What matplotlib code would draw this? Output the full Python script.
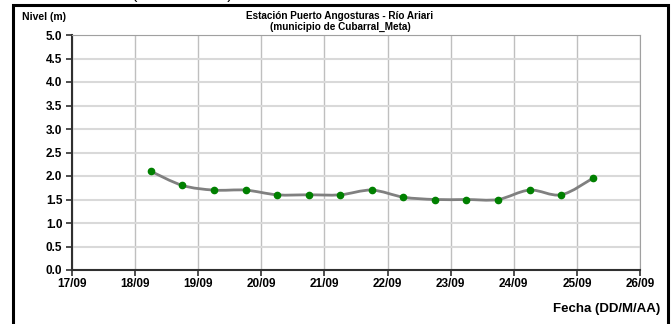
import numpy as np
import matplotlib
matplotlib.use('Agg')
import matplotlib.pyplot as plt
from matplotlib.path import Path
from matplotlib.patches import PathPatch, Rectangle

plt.rcParams['font.family'] = ['Liberation Sans', 'DejaVu Sans']
plt.rcParams['font.weight'] = 'bold'

# datos: dia (fraccion del mes de septiembre) y nivel en metros
dias = [18.25, 18.75, 19.25, 19.75, 20.25, 20.75, 21.25, 21.75,
        22.25, 22.75, 23.25, 23.75, 24.25, 24.75, 25.25]
nivel = [2.1, 1.8, 1.7, 1.7, 1.6, 1.6, 1.6, 1.7,
         1.55, 1.5, 1.5, 1.5, 1.7, 1.6, 1.95]
xticks = [17, 18, 19, 20, 21, 22, 23, 24, 25, 26]
xlabels = ['17/09', '18/09', '19/09', '20/09', '21/09',
           '22/09', '23/09', '24/09', '25/09', '26/09']
yticks = [0.0, 0.5, 1.0, 1.5, 2.0, 2.5, 3.0, 3.5, 4.0, 4.5, 5.0]


def smooth_path(x, y):
    # curva suavizada tipo Excel (bezier cubica)
    pts = np.column_stack([x, y])
    n = len(pts)
    verts = [pts[0]]
    codes = [Path.MOVETO]
    for i in range(n - 1):
        p0 = pts[max(i - 1, 0)]
        p1 = pts[i]
        p2 = pts[i + 1]
        p3 = pts[min(i + 2, n - 1)]
        c1 = p1 + (p2 - p0) / 6.0
        c2 = p2 - (p3 - p1) / 6.0
        verts += [c1, c2, p2]
        codes += [Path.CURVE4] * 3
    return Path(verts, codes)


fig = plt.figure(figsize=(6.71, 3.24), dpi=100)
ax = fig.add_axes([72 / 671, 1 - 270 / 324, 568 / 671, 235 / 324])

# marco exterior
fig.patches.append(Rectangle((13 / 671, -0.05), 655 / 671, 1.05 - 5 / 324,
                             transform=fig.transFigure, fill=False,
                             edgecolor='black', linewidth=2.2))
# texto recortado arriba (solo asoman los parentesis)
fig.text(182 / 671, 1 + 1.5 / 324, '(continuación)', ha='center',
         va='baseline', fontsize=11.5, fontweight='normal')

ax.add_patch(PathPatch(smooth_path(dias, nivel), facecolor='none',
                       edgecolor='#808080', linewidth=2, zorder=3))
ax.plot(dias, nivel, linestyle='none', marker='o', markersize=4.5,
        color='#008000', zorder=4)

ax.set_xlim(17, 26)
ax.set_ylim(0, 5)
ax.set_xticks(xticks)
ax.set_xticklabels(xlabels)
ax.set_yticks(yticks)
ax.set_yticklabels(['%.1f' % v for v in yticks])
ax.tick_params(axis='both', direction='out', length=4, width=1.2,
               labelsize=8.5, color='#303030', pad=2)
ax.tick_params(axis='y', pad=3)

ax.grid(axis='x', color='#bfbfbf', linewidth=1)
ax.grid(axis='y', color='#d9d9d9', linewidth=1.5)
ax.set_axisbelow(True)
ax.spines['left'].set_color('#303030')
ax.spines['left'].set_linewidth(1.5)
ax.spines['bottom'].set_color('#303030')
ax.spines['bottom'].set_linewidth(1.5)
ax.spines['top'].set_color('#a0a0a0')
ax.spines['right'].set_color('#a0a0a0')

fig.text(340 / 671, 1 - 16 / 324, 'Estación Puerto Angosturas - Río Ariari',
         ha='center', va='center', fontsize=7.2)
fig.text(340 / 671, 1 - 27 / 324, '(municipio de Cubarral_Meta)',
         ha='center', va='center', fontsize=7.2)
fig.text(22 / 671, 1 - 17 / 324, 'Nivel (m)', ha='left', va='center',
         fontsize=7.5)
fig.text(660 / 671, 1 - 309 / 324, 'Fecha (DD/M/AA)', ha='right',
         va='center', fontsize=9.5)

plt.savefig('out.png', dpi=100)
